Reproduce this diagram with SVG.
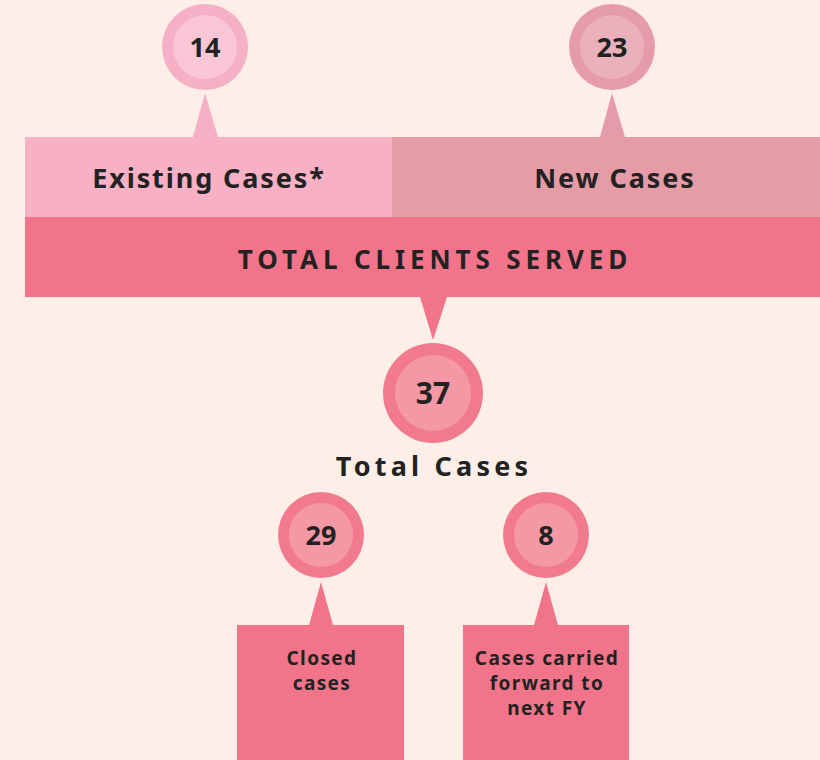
<svg xmlns="http://www.w3.org/2000/svg" width="820" height="760" viewBox="0 0 820 760">
  <style>
    text { font-family: "Noto Sans", "DejaVu Sans", sans-serif; font-weight: 700; fill: #222; text-anchor: middle; }
    .num { font-size: 27px; }
    .head { font-size: 27px; letter-spacing: 1.9px; }
    .band { font-size: 26px; letter-spacing: 4.9px; }
    .sub { font-size: 19px; letter-spacing: 1.4px; }
  </style>
  <rect width="820" height="760" fill="#fdefe7"/>

  <g id="connectors">
    <polygon points="205,93 193,137 218,137" fill="#f6b0c5"/>
    <polygon points="612,93 600,137 625,137" fill="#e59ca8"/>
    <polygon points="420,297 447,297 433,340" fill="#f2748a"/>
    <polygon points="321,582 309,625 333,625" fill="#f2748a"/>
    <polygon points="546,582 534,625 558,625" fill="#f2748a"/>
  </g>

  <g id="existing-count">
    <circle cx="205" cy="47" r="43" fill="#f6b0c5"/>
    <circle cx="205" cy="47" r="32" fill="#f8c6d4"/>
    <text class="num" x="205" y="57">14</text>
  </g>

  <g id="new-count">
    <circle cx="612" cy="47" r="43" fill="#e59ca8"/>
    <circle cx="612" cy="47" r="32" fill="#ebb1bb"/>
    <text class="num" x="612" y="57">23</text>
  </g>

  <g id="existing-cases">
    <rect x="25" y="137" width="367" height="80" fill="#f7b0c4"/>
    <text class="head" x="209" y="188">Existing Cases*</text>
  </g>

  <g id="new-cases">
    <rect x="392" y="137" width="428" height="80" fill="#e59ca7"/>
    <text class="head" x="615" y="188">New Cases</text>
  </g>

  <g id="total-clients">
    <rect x="25" y="217" width="795" height="80" fill="#f2748a"/>
    <text class="band" x="435" y="269">TOTAL CLIENTS SERVED</text>
  </g>

  <g id="total-cases">
    <circle cx="433" cy="393" r="50" fill="#f27a8f"/>
    <circle cx="433" cy="393" r="38" fill="#f598a6"/>
    <text class="num" x="433" y="404" style="font-size:30px">37</text>
    <text class="head" x="434" y="476" style="letter-spacing:4.2px">Total Cases</text>
  </g>

  <g id="closed-count">
    <circle cx="321" cy="535" r="43" fill="#f27a8f"/>
    <circle cx="321" cy="535" r="32" fill="#f598a6"/>
    <text class="num" x="321" y="545">29</text>
  </g>

  <g id="carried-count">
    <circle cx="546" cy="535" r="43" fill="#f27a8f"/>
    <circle cx="546" cy="535" r="32" fill="#f598a6"/>
    <text class="num" x="546" y="545">8</text>
  </g>

  <g id="closed-cases">
    <rect x="237" y="625" width="167" height="135" fill="#f2748a"/>
    <text class="sub" x="322" y="665">Closed</text>
    <text class="sub" x="322" y="690">cases</text>
  </g>

  <g id="carried-forward">
    <rect x="463" y="625" width="166" height="135" fill="#f2748a"/>
    <text class="sub" x="547" y="665">Cases carried</text>
    <text class="sub" x="547" y="690">forward to</text>
    <text class="sub" x="547" y="715">next FY</text>
  </g>
</svg>
